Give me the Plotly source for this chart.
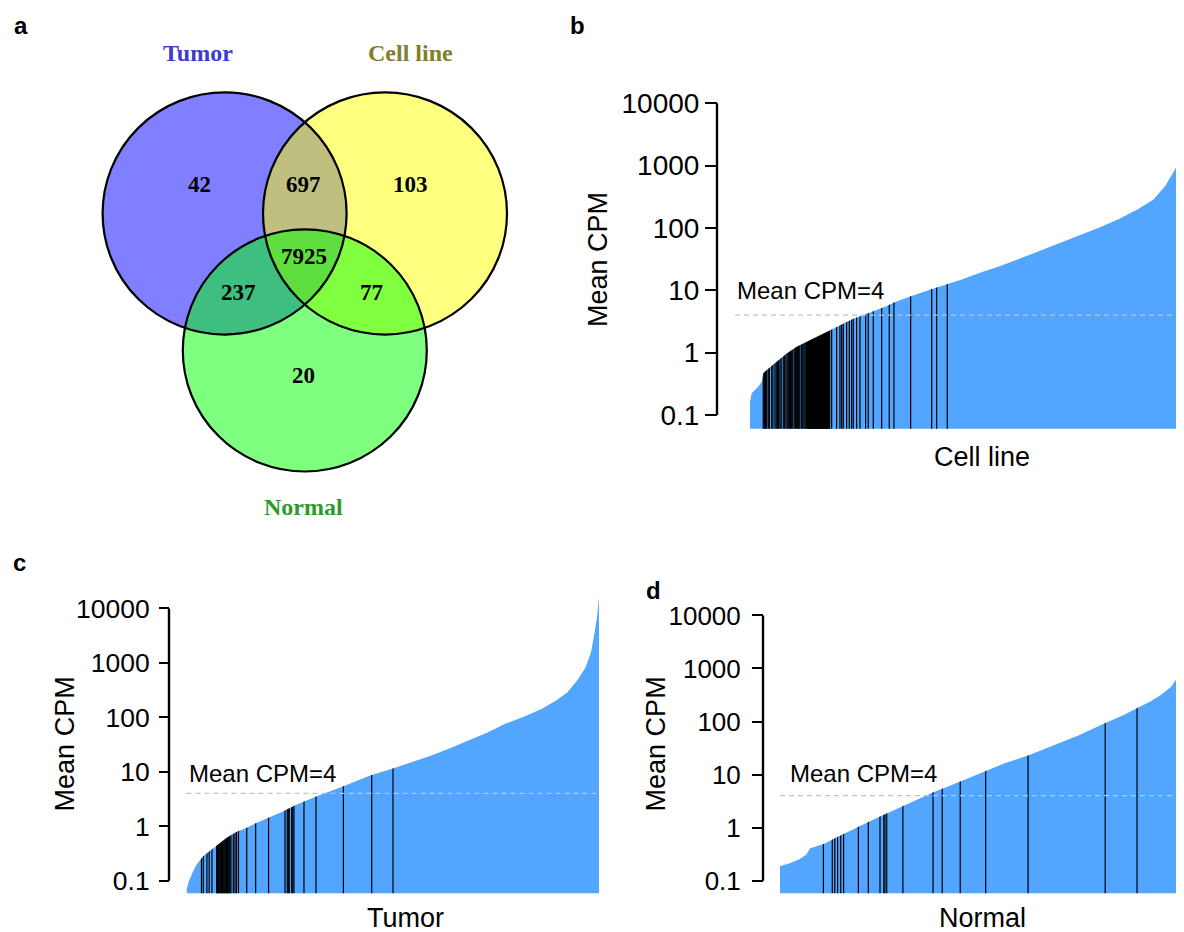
import plotly.graph_objects as go

W, H = 1184, 932
OFF = 8  # default page margin of the HTML body
WF, HF = W - OFF, H - OFF

# ---------------- data ----------------
venn_sets = ["Tumor", "Cell line", "Normal"]
venn_set_colors = ["#3b3bcf", "#7f7f2c", "#2e9a2e"]
# regions: Tumor only, Cell line only, Normal only, T&C, T&N, C&N, T&C&N
venn_regions = ["T", "C", "N", "TC", "TN", "CN", "TCN"]
venn_counts = [42, 103, 20, 697, 237, 77, 7925]

y_tickvals = [0.1, 1, 10, 100, 1000, 10000]
y_ticktext = ["0.1", "1", "10", "100", "1000", "10000"]
cpm_threshold = 4

cell_rank = [1, 34, 168, 237, 270, 339, 541, 744, 947, 1150, 1353, 1622, 1825, 2095, 2367,
             2772, 2941, 3257, 3655, 4012, 4290, 4687, 5085, 5482, 5877, 6275, 6672, 7070,
             7467, 7863, 8181, 8419, 8617, 8737, 8802]
cell_cpm = [0.164, 0.223, 0.285, 0.342, 0.465, 0.525, 0.713, 0.968, 1.24, 1.49, 1.79, 2.28,
            2.74, 3.5, 4.22, 5.57, 6.46, 8.05, 10.3, 12.7, 14.9, 19.5, 24.8, 32.5, 43.1, 56.4,
            74.6, 101, 138, 199, 287, 469, 865, 1409, 2037]
cell_specific_rank = [270, 294, 314, 339, 371, 395, 440, 466, 507, 533, 558, 582, 608, 633, 675,
                      700, 730, 754, 777, 801, 821, 846, 868, 898, 923, 947, 969, 984, 994, 1014,
                      1048, 1071, 1095, 1115, 1136,
                      1150, 1160, 1171, 1180, 1191, 1200, 1211, 1221, 1230, 1241, 1251, 1262,
                      1271, 1282, 1292, 1301, 1312, 1322, 1333, 1342, 1353, 1363, 1372, 1383,
                      1393, 1404, 1413, 1424, 1434, 1444, 1455, 1464, 1474, 1485, 1495, 1504,
                      1515, 1525, 1536, 1545, 1556, 1566, 1575, 1586, 1596, 1607, 1616,
                      1657, 1758, 1825, 1860, 1892, 1961, 2014, 2062, 2095, 2164, 2231, 2346,
                      2399, 2501, 2671, 2825, 2920, 3259, 3685, 3786, 4001]

tumor_rank = [1, 39, 147, 220, 363, 507, 652, 867, 1083, 1299, 1515, 1802, 2089, 2378, 2809,
              3383, 3960, 4462, 5110, 5312, 5705, 6098, 6491, 6883, 7274, 7667, 7982, 8217,
              8452, 8610, 8726, 8804, 8860, 8901]
tumor_cpm = [0.067, 0.093, 0.152, 0.201, 0.285, 0.352, 0.453, 0.615, 0.794, 0.938, 1.16, 1.47,
             1.89, 2.5, 3.55, 5.4, 8.55, 11.6, 17.7, 20.3, 27.7, 38.2, 52.6, 76.7, 102, 144,
             205, 290, 508, 830, 1556, 3597, 7244, 16800]
tumor_specific_rank = [324, 363, 442, 490, 550, 652, 669, 686, 706, 723, 740, 760, 777, 794,
                       814, 831, 848, 868, 885, 902, 921, 939, 960, 1010, 1047, 1079, 1122,
                       1301, 1493, 1772, 2126, 2175, 2197, 2218, 2270, 2294, 2320, 2536, 2795,
                       3386, 3997, 4456]

normal_rank = [1, 180, 397, 542, 614, 902, 1119, 1409, 1697, 1986, 2276, 2564, 2855, 3143,
               3432, 3722, 4156, 4589, 5094, 5599, 6106, 6648, 7045, 7299, 7550, 7767, 7984,
               8129, 8201, 8259]
normal_cpm = [0.19, 0.21, 0.254, 0.315, 0.407, 0.499, 0.627, 0.861, 1.15, 1.53, 2.04, 2.71,
              3.52, 4.68, 5.97, 7.62, 11.1, 16.3, 23.4, 36, 55.3, 94.2, 135, 179, 232, 310,
              444, 682, 977, 1303]
normal_specific_rank = [888, 1070, 1121, 1178, 1243, 1301, 1603, 1806, 2045, 2123, 2145, 2182,
                        2513, 3129, 3317, 3685, 4205, 5072, 6648, 7299]

# set sizes from the Venn counts
vc = dict(zip(venn_regions, venn_counts))
n_tumor = vc["T"] + vc["TC"] + vc["TN"] + vc["TCN"]
n_cell = vc["C"] + vc["TC"] + vc["CN"] + vc["TCN"]
n_normal = vc["N"] + vc["TN"] + vc["CN"] + vc["TCN"]

# ---------------- styling / layout ----------------
SANS = "Arial, 'Liberation Sans', Helvetica, sans-serif"
SERIF = "'Times New Roman', 'Liberation Serif', Times, serif"
BLUE = "#52a6ff"
TXT_DY = -3  # text placement correction (px)


def fx(px):
    return (px - OFF) / WF


def fy(py):
    return 1 - (py - OFF) / HF


fig = go.Figure()
shapes = []
annotations = []

panels = [
    dict(label="Cell line", ax="2", ranks=cell_rank, cpm=cell_cpm, spec=cell_specific_rank, n=n_cell,
         x0=750, x1=1184, y10k=100, y01=414, ybot=428, axis_x=717, ticklen=12, tfont=28, standoff=0,
         ytitle=(598, 257), xtitle=(982, 459), thr_txt=(735, 291.5), thr_x0=735),
    dict(label="Tumor", ax="3", ranks=tumor_rank, cpm=tumor_cpm, spec=tumor_specific_rank, n=n_tumor,
         x0=186.5, x1=599, y10k=609, y01=883.3, ybot=896, axis_x=169, ticklen=10, tfont=26.5, standoff=4,
         ytitle=(65, 746), xtitle=(405.5, 924), thr_txt=(186.5, 778), thr_x0=186.5),
    dict(label="Normal", ax="4", ranks=normal_rank, cpm=normal_cpm, spec=normal_specific_rank, n=n_normal,
         x0=780, x1=1184, y10k=616, y01=883.3, ybot=896, axis_x=763, ticklen=11, tfont=26, standoff=6,
         ytitle=(656, 745), xtitle=(982.5, 924), thr_txt=(788, 778), thr_x0=780),
]

layout_axes = {}
for p in panels:
    a = p["ax"]
    ppd = (p["y01"] - p["y10k"]) / 5.0
    lo = -1 - (p["ybot"] - p["y01"]) / ppd
    hi = 4.2
    ytop = p["y10k"] - 0.2 * ppd
    xa, ya = "x" + a, "y" + a

    # blue sorted-expression area
    fig.add_trace(go.Scatter(x=p["ranks"], y=p["cpm"], mode="lines",
                             line=dict(color=BLUE, width=0.5), fill="tozeroy", fillcolor=BLUE,
                             xaxis=xa, yaxis=ya, hoverinfo="skip", showlegend=False))
    # specific genes as black lines (clipped to the curve by the mask below)
    lx, ly = [], []
    for r in p["spec"]:
        lx += [r, r, None]
        ly += [0.001, y_tickvals[-1], None]
    fig.add_trace(go.Scatter(x=lx, y=ly, mode="lines", line=dict(color="black", width=1.2),
                             xaxis=xa, yaxis=ya, hoverinfo="skip", showlegend=False))
    # white mask above the curve
    fig.add_trace(go.Scatter(x=p["ranks"] + [p["ranks"][-1], p["ranks"][0]],
                             y=p["cpm"] + [1e7, 1e7], mode="lines", fill="toself",
                             fillcolor="white", line=dict(color="rgba(0,0,0,0)", width=0),
                             xaxis=xa, yaxis=ya, hoverinfo="skip", showlegend=False))

    layout_axes["xaxis" + a] = dict(domain=[fx(p["x0"]), min(1, fx(p["x1"]))],
                                    range=[p["ranks"][0], p["n"]], anchor=ya, visible=False)
    layout_axes["yaxis" + a] = dict(domain=[fy(p["ybot"]), fy(ytop)], type="log", range=[lo, hi],
                                    anchor="free", position=fx(p["axis_x"]),
                                    tickvals=y_tickvals, ticktext=y_ticktext,
                                    ticks="outside", ticklen=p["ticklen"], tickwidth=2.4,
                                    tickcolor="black", showgrid=False, zeroline=False,
                                    showline=False, ticklabelstandoff=p["standoff"],
                                    tickfont=dict(family=SANS, size=p["tfont"], color="black"))
    # axis line between 0.1 and 10000
    shapes.append(dict(type="line", xref="paper", yref=ya, x0=fx(p["axis_x"]), x1=fx(p["axis_x"]),
                       y0=y_tickvals[0], y1=y_tickvals[-1], line=dict(color="black", width=2.4)))
    # threshold line
    shapes.append(dict(type="line", xref="paper", yref=ya, x0=fx(p["thr_x0"]), x1=min(1, fx(p["x1"])),
                       y0=cpm_threshold, y1=cpm_threshold,
                       line=dict(color="#c4c4c4", width=1.3, dash="5px,4px")))
    annotations.append(dict(text="Mean CPM=%d" % cpm_threshold, xref="paper", yref="paper",
                            x=fx(p["thr_txt"][0]), y=fy(p["thr_txt"][1] + TXT_DY), xanchor="left",
                            yanchor="middle", showarrow=False,
                            font=dict(family=SANS, size=24, color="black")))
    annotations.append(dict(text="Mean CPM", xref="paper", yref="paper", textangle=-90,
                            x=fx(p["ytitle"][0]), y=fy(p["ytitle"][1]), xanchor="center",
                            yanchor="middle", showarrow=False,
                            font=dict(family=SANS, size=27, color="black")))
    annotations.append(dict(text=p["label"], xref="paper", yref="paper",
                            x=fx(p["xtitle"][0]), y=fy(p["xtitle"][1] + TXT_DY), xanchor="center",
                            yanchor="middle", showarrow=False,
                            font=dict(family=SANS, size=27, color="black")))

# ---------------- Venn diagram (panel a) ----------------
venn_circles = {"Tumor": (224.6, 211, 122), "Cell line": (385, 211, 122), "Normal": (304.8, 349, 122)}
venn_fill = {"Tumor": "rgba(0,0,255,0.5)", "Cell line": "rgba(255,255,0,0.5)",
             "Normal": "rgba(0,255,0,0.5)"}
for s in venn_sets:
    cx, cy, r = venn_circles[s]
    shapes.append(dict(type="circle", xref="x", yref="y", x0=cx - r, x1=cx + r, y0=cy - r, y1=cy + r,
                       fillcolor=venn_fill[s], line=dict(width=0, color="rgba(0,0,0,0)")))
for s in venn_sets:
    cx, cy, r = venn_circles[s]
    shapes.append(dict(type="circle", xref="x", yref="y", x0=cx - r, x1=cx + r, y0=cy - r, y1=cy + r,
                       fillcolor="rgba(0,0,0,0)", line=dict(width=2.2, color="black")))

venn_label_pos = {"T": (199.3, 185), "C": (410.7, 185), "N": (303.6, 377), "TC": (303.6, 185),
                  "TN": (238.6, 294), "CN": (371.4, 294), "TCN": (303.6, 257)}
for reg, cnt in zip(venn_regions, venn_counts):
    x, y = venn_label_pos[reg]
    annotations.append(dict(text="<b>%d</b>" % cnt, xref="x", yref="y", x=x, y=y + TXT_DY,
                            showarrow=False, xanchor="center", yanchor="middle",
                            font=dict(family=SERIF, size=23, color="black")))
venn_name_pos = {"Tumor": (198.2, 52), "Cell line": (410.7, 52), "Normal": (303.6, 510)}
for s, col in zip(venn_sets, venn_set_colors):
    x, y = venn_name_pos[s]
    annotations.append(dict(text="<b>%s</b>" % s, xref="x", yref="y", x=x, y=y + TXT_DY,
                            showarrow=False, xanchor="center", yanchor="middle",
                            font=dict(family=SERIF, size=24, color=col)))

# panel letters
for letter, (x, y) in zip("abcd", [(20.5, 22), (577, 21.5), (19.5, 562.5), (653.5, 590.5)]):
    annotations.append(dict(text="<b>%s</b>" % letter, xref="paper", yref="paper", x=fx(x), y=fy(y),
                            xanchor="center", yanchor="middle", showarrow=False,
                            font=dict(family=SANS, size=24, color="black")))

fig.update_layout(
    width=WF, height=HF, margin=dict(l=0, r=0, t=0, b=0),
    paper_bgcolor="white", plot_bgcolor="rgba(0,0,0,0)", showlegend=False,
    xaxis=dict(domain=[0, fx(560)], range=[OFF, 560], visible=False, anchor="y"),
    yaxis=dict(domain=[fy(530), 1], range=[530, OFF], visible=False, anchor="x"),
    shapes=shapes, annotations=annotations,
    **layout_axes,
)

fig.write_html("out.html")
